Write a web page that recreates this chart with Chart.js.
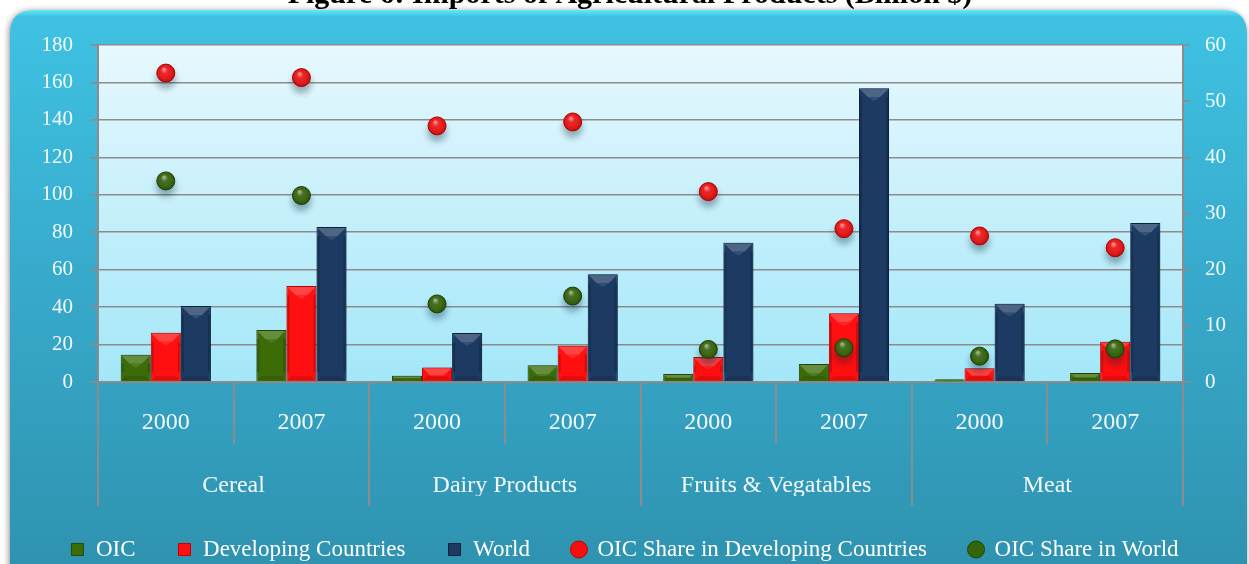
<!DOCTYPE html>
<html>
<head>
<meta charset="utf-8">
<script src="https://cdn.jsdelivr.net/npm/chart.js@4"></script>
<style>
html,body{margin:0;padding:0;background:#fff;overflow:hidden;}
#wrap{position:relative;width:1249px;height:564px;}
</style>
</head>
<body>
<div id="wrap"><canvas id="c" width="1249" height="564"></canvas></div>
<script>
// ---- data ----
const years = ['2000','2007','2000','2007','2000','2007','2000','2007'];
const groups = ['Cereal','Dairy Products','Fruits & Vegatables','Meat'];
const oic = [14.6, 27.8, 3.4, 8.9, 4.3, 9.6, 1.4, 4.8];
const developing = [26.3, 51.3, 7.8, 19.4, 13.4, 36.7, 7.3, 21.5];
const world = [40.6, 82.8, 26.2, 57.5, 74.4, 156.9, 41.8, 84.9];
const shareDeveloping = [55.0, 54.2, 45.6, 46.3, 33.9, 27.3, 26.0, 23.9];
const shareWorld = [35.8, 33.2, 13.9, 15.3, 5.8, 6.1, 4.6, 5.9];
const seriesNames = ['OIC','Developing Countries','World','OIC Share in Developing Countries','OIC Share in World'];
const titleText = 'Figure 6: Imports of Agricultural Products (Billion $)';

const FONT = '"Liberation Serif", "DejaVu Serif", serif';
const TXT = '#f2f9fb';
const GRIDC = '#8c8c8c';

const bgPlugin = {
  id: 'bg',
  beforeDraw(chart) {
    const ctx = chart.ctx, W = chart.width, H = chart.height, a = chart.chartArea;
    ctx.save();
    ctx.fillStyle = '#ffffff';
    ctx.fillRect(0, 0, W, H);
    // title (mostly cut off at the top)
    ctx.fillStyle = '#000';
    ctx.font = 'bold 30px ' + FONT;
    ctx.textAlign = 'center';
    ctx.textBaseline = 'alphabetic';
    ctx.fillText(titleText, 630, 3);
    // outer rounded box with shadow
    const x0 = 10, y0 = 10, x1 = 1247, y1 = 600, r = 24;
    ctx.shadowColor = 'rgba(0,0,0,0.45)';
    ctx.shadowBlur = 6;
    ctx.shadowOffsetX = -1;
    ctx.shadowOffsetY = 1;
    const g = ctx.createLinearGradient(0, y0, 0, H);
    g.addColorStop(0, '#63e8fb');
    g.addColorStop(0.012, '#3fc2e2');
    g.addColorStop(0.5, '#37a9cb');
    g.addColorStop(1, '#2f93b0');
    ctx.fillStyle = g;
    ctx.beginPath();
    ctx.moveTo(x0 + r, y0);
    ctx.lineTo(x1 - r, y0);
    ctx.quadraticCurveTo(x1, y0, x1, y0 + r);
    ctx.lineTo(x1, y1 - r);
    ctx.quadraticCurveTo(x1, y1, x1 - r, y1);
    ctx.lineTo(x0 + r, y1);
    ctx.quadraticCurveTo(x0, y1, x0, y1 - r);
    ctx.lineTo(x0, y0 + r);
    ctx.quadraticCurveTo(x0, y0, x0 + r, y0);
    ctx.closePath();
    ctx.fill();
    ctx.shadowColor = 'transparent';
    // plot area
    const pg = ctx.createLinearGradient(0, a.top, 0, a.bottom);
    pg.addColorStop(0, '#e7f8fd');
    pg.addColorStop(1, '#a3e7f9');
    ctx.fillStyle = pg;
    ctx.fillRect(a.left, a.top, a.right - a.left, a.bottom - a.top);
    ctx.restore();
  }
};

const sepPlugin = {
  id: 'sep',
  afterDraw(chart) {
    const xs = chart.scales.x, a = chart.chartArea, ctx = chart.ctx;
    const n = years.length;
    ctx.save();
    ctx.strokeStyle = GRIDC;
    ctx.lineWidth = 2;
    for (let i = 0; i <= n; i++) {
      let px;
      if (i === 0) px = xs.left;
      else if (i === n) px = xs.right;
      else px = (xs.getPixelForTick(i - 1) + xs.getPixelForTick(i)) / 2;
      const end = (i % 2 === 0) ? a.bottom + 124 : a.bottom + 62;
      ctx.beginPath();
      ctx.moveTo(Math.round(px), a.bottom);
      ctx.lineTo(Math.round(px), end);
      ctx.stroke();
    }
    ctx.restore();
  }
};

function shade(hex, amt) {
  const n = parseInt(hex.slice(1), 16);
  let r = (n >> 16) & 255, g = (n >> 8) & 255, b = n & 255;
  const f = v => Math.max(0, Math.min(255, Math.round(amt >= 0 ? v + (255 - v) * amt : v * (1 + amt))));
  return 'rgb(' + f(r) + ',' + f(g) + ',' + f(b) + ')';
}

const fxPlugin = {
  id: 'fx',
  beforeDatasetDraw(chart, args) {
    const ctx = chart.ctx;
    ctx.save();
    if (args.meta.type === 'line') {
      ctx.shadowColor = 'rgba(0,40,60,0.35)';
      ctx.shadowBlur = 6;
      ctx.shadowOffsetY = 6;
    } else {
      ctx.shadowColor = 'rgba(0,30,50,0.35)';
      ctx.shadowBlur = 4;
      ctx.shadowOffsetX = 2;
      ctx.shadowOffsetY = 0;
    }
  },
  afterDatasetDraw(chart, args) {
    const ctx = chart.ctx;
    ctx.restore();
    const ds = chart.data.datasets[args.index];
    ctx.save();
    if (args.meta.type === 'bar') {
      const base = ds.backgroundColor;
      args.meta.data.forEach(el => {
        const p = el.getProps(['x', 'y', 'base', 'width'], true);
        const l = p.x - p.width / 2, rr = p.x + p.width / 2, t = p.y, b = p.base;
        const h = b - t;
        if (h < 1) return;
        const ins = Math.min(8, h / 2);
        // top bevel (light, V shape)
        ctx.fillStyle = shade(base, 0.22);
        ctx.beginPath();
        ctx.moveTo(l + 1, t + 1); ctx.lineTo(rr - 1, t + 1);
        ctx.lineTo(rr - 1 - ins, t + 1 + ins); ctx.lineTo(l + 1 + ins, t + 1 + ins);
        ctx.closePath(); ctx.fill();
        ctx.fillStyle = shade(base, 0.10);
        ctx.beginPath();
        ctx.moveTo(l + 1 + ins, t + 1 + ins); ctx.lineTo(rr - 1 - ins, t + 1 + ins);
        ctx.lineTo(p.x, t + 1 + ins + Math.min(4, h / 4));
        ctx.closePath(); ctx.fill();
        // thin side edges (slightly dark)
        ctx.fillStyle = shade(base, -0.18);
        ctx.fillRect(l + 1, t + 1 + ins, 2, Math.max(0, h - 2 - 2 * ins));
        ctx.fillRect(rr - 3, t + 1 + ins, 2, Math.max(0, h - 2 - 2 * ins));
        // bottom bevel
        ctx.fillStyle = shade(base, -0.12);
        const bi = Math.min(4, h / 3);
        ctx.beginPath();
        ctx.moveTo(l + 1, b - 1); ctx.lineTo(rr - 1, b - 1);
        ctx.lineTo(rr - 1 - bi, b - 1 - bi); ctx.lineTo(l + 1 + bi, b - 1 - bi);
        ctx.closePath(); ctx.fill();
      });
    } else {
      args.meta.data.forEach(el => {
        const p = el.getProps(['x', 'y'], true);
        const r = 9;
        const rg = ctx.createRadialGradient(p.x - 2, p.y - 4, 0.5, p.x, p.y, r);
        rg.addColorStop(0, 'rgba(255,255,255,0.55)');
        rg.addColorStop(0.35, 'rgba(255,255,255,0.08)');
        rg.addColorStop(1, 'rgba(0,0,0,0.18)');
        ctx.fillStyle = rg;
        ctx.beginPath(); ctx.arc(p.x, p.y, r, 0, Math.PI * 2); ctx.fill();
      });
    }
    ctx.restore();
  }
};

const colOIC = '#3b6c08', colDev = '#ff0f0f', colWorld = '#1c3a62';
const colPtRed = '#f41010', colPtGreen = '#356508';

new Chart(document.getElementById('c'), {
  data: {
    labels: years,
    datasets: [
      { type: 'bar', label: seriesNames[0], data: oic, backgroundColor: colOIC, borderColor: '#274a04', borderWidth: 1, pointStyle: 'rect', yAxisID: 'y', xAxisID: 'x', order: 2 },
      { type: 'bar', label: seriesNames[1], data: developing, backgroundColor: colDev, borderColor: '#c40000', borderWidth: 1, pointStyle: 'rect', yAxisID: 'y', xAxisID: 'x', order: 2 },
      { type: 'bar', label: seriesNames[2], data: world, backgroundColor: colWorld, borderColor: '#0e2240', borderWidth: 1, pointStyle: 'rect', yAxisID: 'y', xAxisID: 'x', order: 2 },
      { type: 'line', label: seriesNames[3], data: shareDeveloping, showLine: false, backgroundColor: colPtRed, borderColor: '#c20000', borderWidth: 1, pointRadius: 9, pointHoverRadius: 9, pointStyle: 'circle', yAxisID: 'y1', xAxisID: 'x', order: 1 },
      { type: 'line', label: seriesNames[4], data: shareWorld, showLine: false, backgroundColor: colPtGreen, borderColor: '#234503', borderWidth: 1, pointRadius: 9, pointHoverRadius: 9, pointStyle: 'circle', yAxisID: 'y1', xAxisID: 'x', order: 1 }
    ]
  },
  options: {
    responsive: false,
    animation: false,
    events: [],
    layout: { padding: { top: 45, left: 0, right: 0, bottom: -7 } },
    datasets: { bar: { categoryPercentage: 0.665, barPercentage: 1.0 } },
    scales: {
      x: {
        type: 'category', position: 'bottom', weight: 0,
        offset: true,
        grid: { display: false, drawTicks: false },
        border: { display: true, color: GRIDC, width: 2 },
        ticks: { color: TXT, font: { family: FONT, size: 24 }, padding: 26, maxRotation: 0, autoSkip: false },
        afterFit(s) { s.height = 52; }
      },
      x2: {
        type: 'category', position: 'bottom', weight: 1,
        labels: groups, offset: true,
        grid: { display: false, drawTicks: false },
        border: { display: false },
        ticks: { color: TXT, font: { family: FONT, size: 24 }, padding: 37, maxRotation: 0, autoSkip: false },
        afterFit(s) { s.height = 62; }
      },
      y: {
        type: 'linear', position: 'left', min: 0, max: 180,
        ticks: { stepSize: 20, color: TXT, font: { family: FONT, size: 21 }, padding: 17 },
        grid: { color: GRIDC, lineWidth: 1.6, tickLength: 8, drawTicks: true },
        border: { display: true, color: GRIDC, width: 2 },
        afterFit(s) { s.width = 98; }
      },
      y1: {
        type: 'linear', position: 'right', min: 0, max: 60,
        ticks: { stepSize: 10, color: TXT, font: { family: FONT, size: 21 }, padding: 15 },
        grid: { drawOnChartArea: false, color: GRIDC, lineWidth: 1.6, tickLength: 7 },
        border: { display: true, color: GRIDC, width: 2 },
        afterFit(s) { s.width = 66; }
      }
    },
    plugins: {
      title: { display: false },
      tooltip: { enabled: false },
      legend: {
        display: true, position: 'bottom',
        labels: {
          color: '#ffffff', font: { family: FONT, size: 23 },
          usePointStyle: true, boxWidth: 14, boxHeight: 12, padding: 42,
          sort: (a, b) => a.datasetIndex - b.datasetIndex
        }
      }
    }
  },
  plugins: [bgPlugin, sepPlugin, fxPlugin]
});
</script>
</body>
</html>
